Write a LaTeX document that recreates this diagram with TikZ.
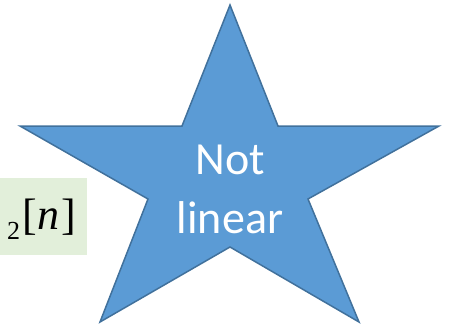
\documentclass[tikz,border=0pt]{standalone}
\usepackage{fontspec}
\setmainfont{Liberation Serif}
\newfontfamily\calfont{Carlito}
\definecolor{starfill}{HTML}{5B9BD5}
\definecolor{starline}{HTML}{41719C}
\definecolor{boxfill}{HTML}{E2EFDA}
\tikzset{
  starshape/.style={fill=starfill,draw=starline,line width=1.5pt,line join=miter},
  startext/.style={text=white,font=\calfont\fontsize{46}{59}\selectfont,align=center},
  sigbox/.style={fill=boxfill,draw=none}
}
\begin{document}
\begin{tikzpicture}[x=1pt,y=-1pt]
\useasboundingbox (0,0) rectangle (450,324);
\fill[sigbox] (0,178) rectangle (87,255);
\node[anchor=base west,inner sep=0pt] (sig) at (7,229)
  {\raisebox{-10pt}{\fontsize{26}{26}\selectfont 2}\kern2pt\fontsize{44}{44}\selectfont[\kern1pt\textit{n}\kern2pt]};
\draw[starshape] (230,5) -- (278,126) -- (439,126) -- (308,199) -- (359,322)
  -- (230,247) -- (100,322) -- (148,199) -- (20,126) -- (182,126) -- cycle;
\node[startext,anchor=center] (lbl) at (230,189) {Not\\linear};
\end{tikzpicture}
\end{document}
